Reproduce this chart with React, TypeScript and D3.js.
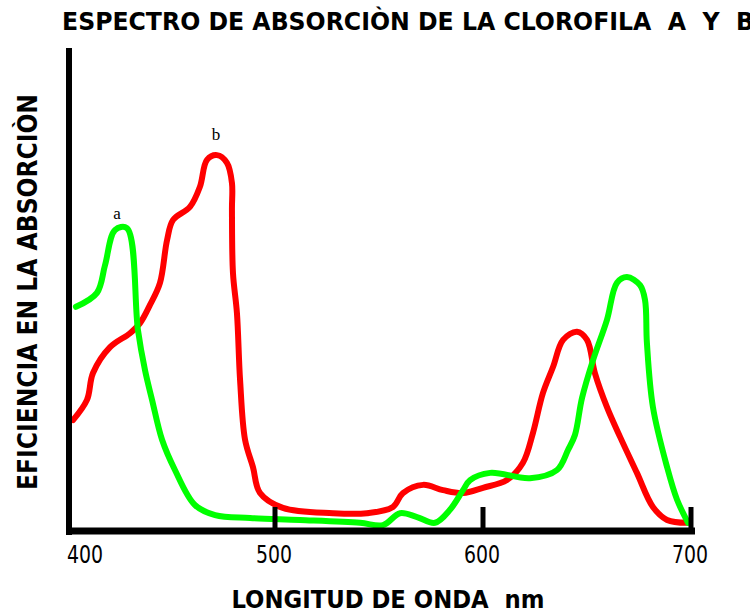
import React from 'react';
import * as d3 from 'd3';

// chlorophyll a (green) - [wavelength nm, relative absorption]
const chlA: [number, number][] = [
  [404.3, 46.5], [414.4, 49.4], [418.3, 55.2], [423.1, 62.5], [428.8, 62.9],
  [434.1, 41.7], [437.5, 33.3], [440.9, 27.1], [445.7, 18.8], [451.9, 12.5],
  [461.5, 5.2], [471.2, 3.1], [488.0, 2.5], [512.0, 2.1], [540.9, 1.5],
  [551.9, 1.0], [560.1, 3.5], [568.3, 2.7], [576.9, 1.5], [584.1, 4.2],
  [590.4, 8.3], [593.8, 10.4], [603.4, 11.9], [622.6, 10.8], [635.6, 12.5],
  [640.9, 16.7], [644.2, 19.8], [647.6, 27.5], [652.9, 35.4], [659.6, 43.8],
  [664.4, 51.5], [669.2, 52.7], [675.5, 51.0], [677.9, 47.9], [678.8, 39.0],
  [681.7, 25.6], [688.5, 13.1], [693.3, 6.3], [698.6, 1.5],
];

// chlorophyll b (red)
const chlB: [number, number][] = [
  [402.9, 22.9], [409.6, 27.1], [412.5, 32.7], [420.7, 38.1], [430.3, 41.0],
  [435.1, 43.1], [439.9, 46.9], [444.7, 51.5], [448.1, 60.4], [451.0, 64.6],
  [459.1, 67.3], [463.9, 71.5], [467.3, 77.1], [472.1, 78.1], [476.9, 76.5],
  [479.3, 72.3], [479.3, 66.7], [479.8, 53.5], [481.7, 45.2], [483.2, 31.3],
  [485.6, 18.8], [489.4, 13.1], [492.8, 7.7], [503.8, 4.6], [527.9, 3.5],
  [544.2, 3.5], [556.7, 4.8], [561.5, 7.7], [571.2, 9.4], [580.8, 8.3],
  [590.4, 7.7], [600.0, 8.8], [611.5, 10.4], [619.2, 14.0], [624.0, 20.2],
  [628.8, 28.5], [633.7, 34.0], [638.5, 39.6], [645.2, 41.3], [650.0, 39.6],
  [653.8, 32.7], [659.6, 25.6], [665.9, 19.4], [674.0, 11.9], [681.7, 4.8],
  [688.5, 2.1], [698.1, 1.5],
];

const xTicks = [400, 500, 600, 700];
const tickMarks = [500, 600, 700];

const narrow = '"Liberation Sans Narrow", "DejaVu Sans Condensed", sans-serif';

export default function App() {
  const W = 750, H = 613;
  const x = d3.scaleLinear().domain([400, 700]).range([67, 691]);
  const y = d3.scaleLinear().domain([0, 100]).range([530, 50]);

  const line = d3.line<[number, number]>()
    .x((d) => x(d[0]))
    .y((d) => y(d[1]))
    .curve(d3.curveCatmullRom.alpha(0.5));

  return (
    <svg width={W} height={H} style={{ position: 'absolute', left: 0, top: 0, background: '#fff' }}>
      <text x={62} y={30} fontFamily={narrow} fontWeight="bold" fontSize={24}
        style={{ whiteSpace: 'pre' }} textLength={692} lengthAdjust="spacingAndGlyphs">
        {'ESPECTRO DE ABSORCIÒN DE LA CLOROFILA  A  Y  B'}
      </text>

      <text transform="translate(37,292) rotate(-90)" textAnchor="middle"
        fontFamily={narrow} fontWeight="bold" fontSize={27}
        textLength={396} lengthAdjust="spacingAndGlyphs">
        EFICIENCIA EN LA ABSORCIÒN
      </text>

      <path d={line(chlB) || ''} fill="none" stroke="#ff0000" strokeWidth={6}
        strokeLinejoin="round" strokeLinecap="round" />
      <path d={line(chlA) || ''} fill="none" stroke="#00ff00" strokeWidth={6}
        strokeLinejoin="round" strokeLinecap="round" />

      {/* axes */}
      <line x1={69} y1={48} x2={69} y2={535} stroke="#000" strokeWidth={6} />
      <line x1={66} y1={531} x2={695} y2={531} stroke="#000" strokeWidth={7} />
      {tickMarks.map((t) => (
        <line key={t} x1={x(t)} x2={x(t)} y1={507} y2={531} stroke="#000" strokeWidth={5} />
      ))}
      {xTicks.map((t) => (
        <text key={t} x={t === 400 ? x(t) + 18 : x(t) - 1} y={563} textAnchor="middle"
          fontFamily={narrow} fontSize={24} textLength={36} lengthAdjust="spacingAndGlyphs">
          {t}
        </text>
      ))}

      <text x={388} y={608} textAnchor="middle" fontFamily={narrow} fontWeight="bold" fontSize={25}
        style={{ whiteSpace: 'pre' }} textLength={313} lengthAdjust="spacingAndGlyphs">
        {'LONGITUD DE ONDA  nm'}
      </text>

      <text x={117} y={219} textAnchor="middle" fontFamily="'Liberation Serif', serif" fontSize={17}>a</text>
      <text x={216} y={140} textAnchor="middle" fontFamily="'Liberation Serif', serif" fontSize={17}>b</text>
    </svg>
  );
}
